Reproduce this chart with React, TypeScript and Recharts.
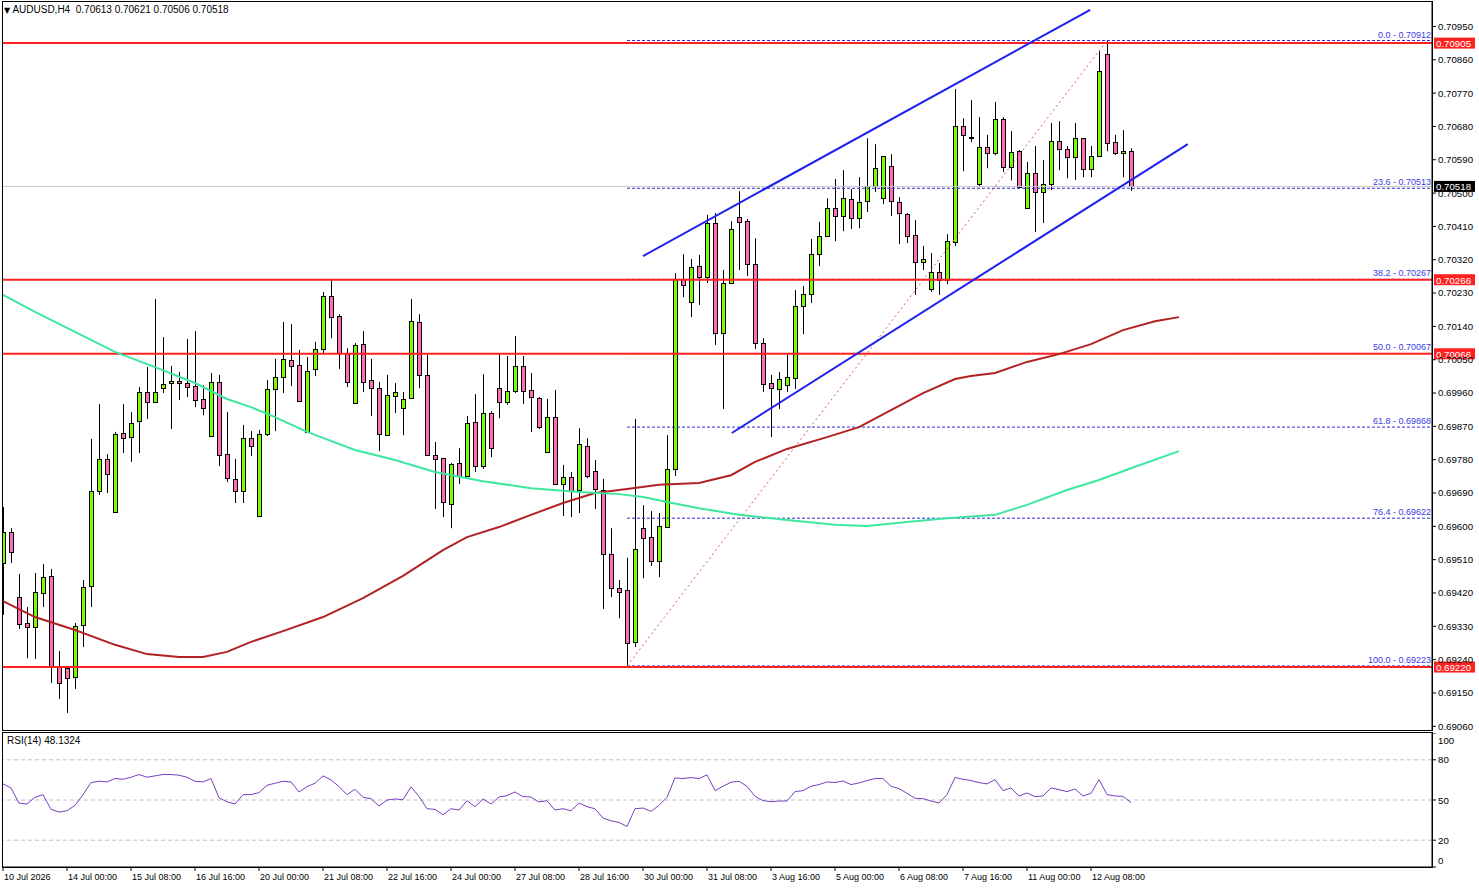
import {
  ComposedChart,
  Bar,
  Line,
  XAxis,
  YAxis,
  ReferenceLine,
} from "recharts";

// AUDUSD H4 candles (oldest first)
const opens = [
  0.69501, 0.69585, 0.69409, 0.69339, 0.69328, 0.6942, 0.69466, 0.6922, 0.69217, 0.69193,
  0.69334, 0.69439, 0.69695, 0.69782, 0.69639, 0.69852, 0.69841, 0.69884, 0.69963, 0.69936,
  0.69973, 0.69987, 0.69992, 0.69987, 0.69979, 0.69944, 0.69844, 0.6999, 0.69795, 0.69728,
  0.69695, 0.69838, 0.69628, 0.69849, 0.69971, 0.70003, 0.70049, 0.70036, 0.69855, 0.70025,
  0.70079, 0.70222, 0.70168, 0.70068, 0.69933, 0.70092, 0.69995, 0.69973, 0.69846, 0.69952,
  0.69919, 0.69946, 0.70152, 0.70009, 0.69793, 0.69785, 0.6966, 0.69771, 0.69736, 0.69882,
  0.69763, 0.69906, 0.69973, 0.69936, 0.69965, 0.70033, 0.69968, 0.69946, 0.69801, 0.69895,
  0.69714, 0.69733, 0.69698, 0.69817, 0.69749, 0.69698, 0.69525, 0.69433, 0.69428, 0.69287,
  0.69595, 0.69571, 0.69506, 0.69598, 0.69755, 0.70268, 0.70206, 0.70303, 0.70273, 0.70419,
  0.70122, 0.70257, 0.70435, 0.70424, 0.70308, 0.70095, 0.69987, 0.69971, 0.69981, 0.7,
  0.70195, 0.70227, 0.70335, 0.70384, 0.70459, 0.70438, 0.70484, 0.70432, 0.70478, 0.70519,
  0.70486, 0.70573, 0.70476, 0.70443, 0.70386, 0.70314, 0.70241, 0.70287, 0.70265, 0.70368,
  0.70681, 0.70652, 0.70524, 0.70624, 0.70608, 0.707, 0.7057, 0.70613, 0.70459, 0.70554,
  0.70503, 0.70524, 0.7064, 0.70619, 0.70597, 0.70648, 0.70565, 0.706, 0.70875, 0.70638,
  0.70608, 0.70613,
];
const highs = [
  0.69652, 0.69595, 0.69471, 0.69382, 0.69474, 0.69498, 0.69485, 0.69263, 0.6922, 0.69339,
  0.69455, 0.69836, 0.6993, 0.69795, 0.69855, 0.6993, 0.69909, 0.69976, 0.7003, 0.70214,
  0.70111, 0.70033, 0.70017, 0.70106, 0.70127, 0.69981, 0.70014, 0.70009, 0.69909, 0.69782,
  0.69874, 0.69857, 0.6986, 0.69995, 0.70052, 0.70152, 0.70146, 0.70076, 0.70057, 0.70098,
  0.70233, 0.70265, 0.70173, 0.70081, 0.70095, 0.70127, 0.70052, 0.6999, 0.70009, 0.69987,
  0.69963, 0.70214, 0.70173, 0.70063, 0.69828, 0.69785, 0.69771, 0.69811, 0.69898, 0.69957,
  0.70011, 0.69911, 0.70065, 0.7006, 0.70114, 0.7006, 0.70014, 0.69949, 0.69944, 0.69968,
  0.69766, 0.69747, 0.69865, 0.69838, 0.69779, 0.69728, 0.69595, 0.69455, 0.69515, 0.6989,
  0.69657, 0.69641, 0.69636, 0.69846, 0.70284, 0.70335, 0.70322, 0.70333, 0.70441, 0.70446,
  0.70292, 0.70424, 0.70505, 0.7043, 0.70378, 0.70108, 0.70009, 0.70017, 0.70063, 0.70238,
  0.70249, 0.70376, 0.70422, 0.70486, 0.70538, 0.70562, 0.70511, 0.70543, 0.70648, 0.70632,
  0.706, 0.70605, 0.70489, 0.70446, 0.70427, 0.70357, 0.70338, 0.70311, 0.70389, 0.70781,
  0.70702, 0.70751, 0.70705, 0.70657, 0.70746, 0.70705, 0.70667, 0.70616, 0.70584, 0.70627,
  0.70589, 0.70689, 0.70694, 0.70627, 0.70689, 0.70648, 0.70627, 0.70883, 0.70912, 0.70657,
  0.7067, 0.70621,
];
const lows = [
  0.69361, 0.69501, 0.69323, 0.69244, 0.69242, 0.69382, 0.69177, 0.69134, 0.69096, 0.69161,
  0.69274, 0.69382, 0.69685, 0.6969, 0.69639, 0.69798, 0.69774, 0.69798, 0.6989, 0.69933,
  0.6996, 0.69863, 0.69941, 0.69949, 0.69922, 0.699, 0.69844, 0.69763, 0.6972, 0.69663,
  0.69663, 0.6979, 0.69625, 0.69844, 0.69857, 0.6996, 0.69979, 0.69938, 0.69855, 0.70006,
  0.70065, 0.70108, 0.70025, 0.69976, 0.69933, 0.69963, 0.69898, 0.69803, 0.69846, 0.69906,
  0.69846, 0.69944, 0.69973, 0.69793, 0.69647, 0.69625, 0.69595, 0.69714, 0.69736, 0.69747,
  0.69755, 0.69787, 0.69892, 0.69928, 0.6996, 0.6993, 0.69855, 0.69863, 0.69798, 0.69714,
  0.69628, 0.69625, 0.69636, 0.6973, 0.69647, 0.69377, 0.69409, 0.69352, 0.69223, 0.69274,
  0.6946, 0.69493, 0.69463, 0.69598, 0.69736, 0.70219, 0.70165, 0.70198, 0.70257, 0.7009,
  0.69917, 0.70257, 0.70292, 0.70276, 0.70079, 0.69963, 0.69841, 0.69917, 0.69963, 0.69971,
  0.70119, 0.70203, 0.70303, 0.70381, 0.7037, 0.70397, 0.70403, 0.70405, 0.70449, 0.70503,
  0.7047, 0.70438, 0.70362, 0.70365, 0.70225, 0.70292, 0.70233, 0.70225, 0.70254, 0.70357,
  0.70559, 0.70638, 0.70519, 0.70567, 0.70602, 0.70557, 0.70534, 0.70516, 0.70459, 0.70395,
  0.70419, 0.70508, 0.70562, 0.7054, 0.70535, 0.70543, 0.70543, 0.706, 0.70613, 0.70603,
  0.70543, 0.70506,
];
const closes = [
  0.69585, 0.69531, 0.69336, 0.69328, 0.69423, 0.69463, 0.6922, 0.69177, 0.6919, 0.69331,
  0.69436, 0.69695, 0.69782, 0.69741, 0.69849, 0.69838, 0.69879, 0.69963, 0.69936, 0.69963,
  0.69984, 0.69992, 0.69987, 0.69976, 0.69941, 0.69919, 0.6999, 0.69793, 0.6973, 0.69695,
  0.69838, 0.69817, 0.69849, 0.69971, 0.70003, 0.70052, 0.70033, 0.69938, 0.70019, 0.70079,
  0.70222, 0.70165, 0.70068, 0.6999, 0.70089, 0.6999, 0.69973, 0.69849, 0.69955, 0.69963,
  0.69944, 0.70154, 0.70009, 0.69793, 0.69782, 0.69667, 0.69769, 0.69736, 0.69879, 0.69763,
  0.69906, 0.69811, 0.69936, 0.69965, 0.70033, 0.69965, 0.69949, 0.69868, 0.69895, 0.69714,
  0.69733, 0.69695, 0.69823, 0.69736, 0.69701, 0.69525, 0.69433, 0.69423, 0.69285, 0.69539,
  0.69568, 0.69506, 0.69601, 0.69755, 0.70268, 0.70251, 0.703, 0.70273, 0.70419, 0.70122,
  0.70257, 0.70403, 0.70422, 0.70308, 0.70095, 0.69984, 0.69973, 0.69998, 0.70003, 0.70195,
  0.70227, 0.70335, 0.70384, 0.70459, 0.70438, 0.70486, 0.70432, 0.70476, 0.70519, 0.70567,
  0.706, 0.70478, 0.70446, 0.70384, 0.70314, 0.70322, 0.70287, 0.70265, 0.7037, 0.70681,
  0.70657, 0.70651, 0.70625, 0.70608, 0.707, 0.7057, 0.70611, 0.70516, 0.70554, 0.70503,
  0.70524, 0.7064, 0.70619, 0.70597, 0.70648, 0.70565, 0.706, 0.70829, 0.70635, 0.70608,
  0.70613, 0.70518,
];

// RSI(14), one value per candle
const rsiValues = [
  62, 59, 47.7, 47, 52, 54, 43, 41, 42, 46, 54, 63, 64, 63.5, 66, 65.5, 67, 69, 67, 68,
  69, 69, 68.5, 67, 64, 63.5, 66, 51.7, 48.6, 47, 54, 54, 55.5, 61, 62.5, 64, 63.5, 56, 60, 62.5,
  68, 65, 60, 54, 58, 52, 51, 45.5, 50, 50.75, 50.2, 59.75, 52.75, 43.5, 43, 39, 43.5, 42.5, 49.5, 45,
  50.75, 47, 52.25, 53.25, 56, 52.5, 52.25, 48.5, 49.5, 42.5, 43.5, 42, 47.75, 45, 43.5, 36.5, 34.5, 33.25, 30.25, 43.5,
  44, 41.5, 46, 52, 66.5, 66, 66.75, 66, 68.75, 57, 60.25, 63.25, 64, 60.25, 52.75, 49.5, 48.75, 49.25, 49.25, 56.25,
  57, 60.25, 61.5, 63.5, 63, 64.25, 61.5, 62.75, 64.5, 66, 66, 60.25, 58.5, 55, 51.25, 51, 49.25, 47.75, 54, 66.75,
  65.5, 64.5, 63, 62, 65.25, 57, 59, 53, 55.25, 52.5, 53, 59, 57.75, 56.25, 58.25, 53, 55, 65.25, 54, 53,
  52.75, 48.1324,
];

// shifted moving averages, read at [candle slot, price]
const fastMa = [
  [0, 0.70225], [4, 0.70179], [9, 0.70125], [14, 0.70071], [19, 0.7003], [24, 0.69987],
  [28, 0.69944], [31, 0.69922], [34, 0.69895], [38, 0.69855], [44, 0.69806], [49, 0.69779],
  [54, 0.69747], [60, 0.69722], [66, 0.69703], [72, 0.69693], [77, 0.69687], [80, 0.69679],
  [83, 0.69666], [87, 0.69649], [92, 0.69631], [98, 0.69617], [104, 0.69604], [108, 0.69601],
  [113, 0.69612], [118, 0.69622], [124, 0.69631], [128, 0.69658], [133, 0.69698], [137, 0.69725],
  [141, 0.69757], [147, 0.69803],
];
const slowMa = [
  [0, 0.69398], [4, 0.69355], [9, 0.6932], [14, 0.6928], [18, 0.69255], [22, 0.69247],
  [25, 0.69247], [28, 0.69261], [31, 0.69288], [35, 0.69317], [40, 0.69355], [45, 0.69406],
  [50, 0.69466], [55, 0.69536], [58, 0.69571], [62, 0.69598], [66, 0.69631], [70, 0.69663],
  [74, 0.6969], [78, 0.69701], [82, 0.69712], [87, 0.69717], [91, 0.69738], [94, 0.69774],
  [98, 0.69809], [103, 0.69841], [107, 0.69868], [111, 0.69914], [115, 0.6996], [119, 0.69998],
  [121, 0.70006], [124, 0.70014], [128, 0.70044], [132, 0.70065], [136, 0.70092], [140, 0.7013],
  [144, 0.70154], [147, 0.70165],
];

const priceTicks = [
  0.6906, 0.6915, 0.6924, 0.6933, 0.6942, 0.6951, 0.696, 0.6969, 0.6978, 0.6987, 0.6996,
  0.7005, 0.7014, 0.7023, 0.7032, 0.7041, 0.705, 0.7059, 0.7068, 0.7077, 0.7086, 0.7095,
];
const timeLabels = [
  "10 Jul 2026", "14 Jul 00:00", "15 Jul 08:00", "16 Jul 16:00", "20 Jul 00:00",
  "21 Jul 08:00", "22 Jul 16:00", "24 Jul 00:00", "27 Jul 08:00", "28 Jul 16:00",
  "30 Jul 00:00", "31 Jul 08:00", "3 Aug 16:00", "5 Aug 00:00", "6 Aug 08:00",
  "7 Aug 16:00", "11 Aug 00:00", "12 Aug 08:00",
];
const levels = [0.70905, 0.70266, 0.70066, 0.6922];
const fibNames = ["0.0", "23.6", "38.2", "50.0", "61.8", "76.4", "100.0"];
const fibPrices = [0.70912, 0.70513, 0.70267, 0.70067, 0.69868, 0.69622, 0.69223];
const swing = [
  { x: 78, y: 0.69223 },
  { x: 138, y: 0.70912 },
];
const upperChannel = [
  { x: 80, y: 0.7033 },
  { x: 135.9, y: 0.70995 },
];
const lowerChannel = [
  { x: 91.1, y: 0.69852 },
  { x: 148.1, y: 0.70632 },
];
const lastPrice = 0.70518;

const SLOTS = 148;
const X_DOMAIN = [-0.125, 178.625];
const FONT = "'Liberation Sans', Arial, sans-serif";

const data = Array.from({ length: SLOTS }, (_, i) => ({
  i,
  open: opens[i],
  high: highs[i],
  low: lows[i],
  close: closes[i],
  rsi: rsiValues[i],
  fast: null as number | null,
  slow: null as number | null,
}));
fastMa.forEach(([i, v]) => (data[i].fast = v));
slowMa.forEach(([i, v]) => (data[i].slow = v));

function Candle(props: any) {
  const { x, y, width, height, payload } = props;
  if (payload == null || payload.high == null) return null;
  const top = Math.min(y, y + height);
  const h = Math.abs(height);
  const k = h / (payload.high - payload.low || 1);
  const cx = Math.round(x + width / 2) + 0.5;
  const up = payload.close >= payload.open;
  let bTop = top + (payload.high - Math.max(payload.open, payload.close)) * k;
  let bBot = top + (payload.high - Math.min(payload.open, payload.close)) * k;
  bTop = Math.round(bTop) + 0.5;
  bBot = Math.max(Math.round(bBot) + 0.5, bTop + 1);
  return (
    <g>
      <line x1={cx} x2={cx} y1={top} y2={top + h} stroke="#000" strokeWidth={1} />
      <rect
        x={cx - 2}
        y={bTop}
        width={4}
        height={bBot - bTop}
        fill={up ? "#7CFC00" : "#FF6EB4"}
        stroke="#000"
        strokeWidth={1}
      />
    </g>
  );
}

function PriceBox(props: any) {
  const { viewBox, text, bg } = props;
  if (!viewBox) return null;
  const x = viewBox.x + viewBox.width + 2;
  const y = viewBox.y;
  return (
    <g>
      <rect x={x} y={y - 5.5} width={41} height={11} fill={bg} />
      <text x={x + 2} y={y + 4} fill="#fff" fontSize={9.7} fontFamily={FONT}>
        {text}
      </text>
    </g>
  );
}

function FibLabel(props: any) {
  const { viewBox, text } = props;
  if (!viewBox) return null;
  return (
    <text
      x={viewBox.x + viewBox.width - 1}
      y={viewBox.y - 3}
      textAnchor="end"
      fill="#3b3be6"
      fontSize={9}
      fontFamily={FONT}
    >
      {text}
    </text>
  );
}

function TimeTick(props: any) {
  const { x, y, payload } = props;
  const label = timeLabels[Math.round(payload.value / 8)];
  return (
    <text x={x + 1} y={y + 7} textAnchor="start" fill="#000" fontSize={9} fontFamily={FONT}>
      {label}
    </text>
  );
}

function RsiTick(props: any) {
  const { x, y, payload } = props;
  const v = payload.value;
  const dy = v === 100 ? 7 : v === 0 ? -7 : 0;
  return (
    <text x={x} y={y + dy + 3.5} textAnchor="start" fill="#000" fontSize={9.7} fontFamily={FONT}>
      {v}
    </text>
  );
}

export default function App() {
  return (
    <div
      style={{
        position: "absolute",
        left: 0,
        top: 0,
        width: 1479,
        height: 888,
        background: "#fff",
        overflow: "hidden",
        fontFamily: FONT,
      }}
    >
      <div style={{ position: "absolute", left: 0, top: 0 }}>
        <ComposedChart
          width={1479}
          height={732}
          data={data}
          margin={{ top: 2, right: 0, bottom: 2, left: 2 }}
        >
          <XAxis
            type="number"
            dataKey="i"
            domain={X_DOMAIN}
            allowDataOverflow
            hide
          />
          <YAxis
            orientation="right"
            domain={[0.6905, 0.71016]}
            allowDataOverflow
            ticks={priceTicks}
            interval={0}
            tickFormatter={(v: number) => v.toFixed(5)}
            width={47}
            tickSize={4}
            tick={{ fontSize: 9.7, fill: "#000", fontFamily: FONT }}
            tickLine={{ stroke: "#000" }}
            axisLine={{ stroke: "#000" }}
          />

          <ReferenceLine y={lastPrice} stroke="#c8c8c8" strokeWidth={1} />

          {fibPrices.map((p, k) => (
            <ReferenceLine
              key={"fib" + k}
              segment={[
                { x: swing[0].x, y: p },
                { x: X_DOMAIN[1], y: p },
              ]}
              stroke="#2a2ad8"
              strokeWidth={1}
              strokeDasharray="3 2"
              ifOverflow="visible"
              label={<FibLabel text={fibNames[k] + " - " + p.toFixed(5)} />}
            />
          ))}

          {levels.map((p) => (
            <ReferenceLine
              key={"lvl" + p}
              y={p}
              stroke="#ff2020"
              strokeWidth={2}
              label={<PriceBox text={p.toFixed(5)} bg="#ff2020" />}
            />
          ))}

          <ReferenceLine
            segment={swing}
            stroke="#e05a5a"
            strokeWidth={1}
            strokeDasharray="2 3"
            ifOverflow="visible"
          />

          <Line
            dataKey="slow"
            stroke="#b22222"
            strokeWidth={2}
            dot={false}
            connectNulls
            isAnimationActive={false}
          />
          <Line
            dataKey="fast"
            stroke="#3de89e"
            strokeWidth={2}
            dot={false}
            connectNulls
            isAnimationActive={false}
          />

          <Bar
            dataKey={(d: any) => (d.high != null ? [d.low, d.high] : null)}
            barSize={5}
            shape={<Candle />}
            isAnimationActive={false}
          />

          <ReferenceLine
            segment={upperChannel}
            stroke="#1f1ff0"
            strokeWidth={2}
            ifOverflow="visible"
          />
          <ReferenceLine
            segment={lowerChannel}
            stroke="#1f1ff0"
            strokeWidth={2}
            ifOverflow="visible"
          />

          <ReferenceLine
            y={lastPrice}
            stroke="none"
            label={<PriceBox text={lastPrice.toFixed(5)} bg="#000" />}
          />
        </ComposedChart>
      </div>

      <div style={{ position: "absolute", left: 0, top: 733 }}>
        <ComposedChart
          width={1479}
          height={155}
          data={data}
          margin={{ top: 0, right: 0, bottom: 0, left: 2 }}
        >
          <XAxis
            type="number"
            dataKey="i"
            domain={X_DOMAIN}
            allowDataOverflow
            ticks={timeLabels.map((_, k) => k * 8)}
            interval={0}
            height={21}
            tickSize={4}
            tick={<TimeTick />}
            tickLine={{ stroke: "#000" }}
            axisLine={{ stroke: "#000" }}
          />
          <YAxis
            orientation="right"
            domain={[0, 100]}
            ticks={[0, 20, 50, 80, 100]}
            interval={0}
            width={47}
            tickSize={4}
            tick={<RsiTick />}
            tickLine={{ stroke: "#000" }}
            axisLine={{ stroke: "#000" }}
          />
          {[80, 50, 20].map((v) => (
            <ReferenceLine key={v} y={v} stroke="#c0c0c0" strokeDasharray="4 3" />
          ))}
          <Line
            dataKey="rsi"
            stroke="#7b3fc0"
            strokeWidth={1}
            dot={false}
            isAnimationActive={false}
          />
        </ComposedChart>
      </div>

      {/* panel frames */}
      <div
        style={{
          position: "absolute",
          left: 2,
          top: 1,
          width: 1431,
          height: 730,
          border: "1px solid #000",
          boxSizing: "border-box",
          pointerEvents: "none",
        }}
      />
      <div
        style={{
          position: "absolute",
          left: 2,
          top: 732,
          width: 1431,
          height: 136,
          border: "1px solid #000",
          boxSizing: "border-box",
          pointerEvents: "none",
        }}
      />

      <div
        style={{
          position: "absolute",
          left: 4,
          top: 4,
          fontSize: 10,
          lineHeight: "12px",
          color: "#000",
          background: "#fff",
          whiteSpace: "pre",
        }}
      >
        <span style={{ fontSize: 8, fontFamily: "'DejaVu Sans', sans-serif" }}>▼</span>
        {" AUDUSD,H4  0.70613 0.70621 0.70506 0.70518"}
      </div>
      <div
        style={{
          position: "absolute",
          left: 7,
          top: 735,
          fontSize: 10,
          lineHeight: "12px",
          color: "#000",
          whiteSpace: "pre",
        }}
      >
        RSI(14) 48.1324
      </div>
    </div>
  );
}
